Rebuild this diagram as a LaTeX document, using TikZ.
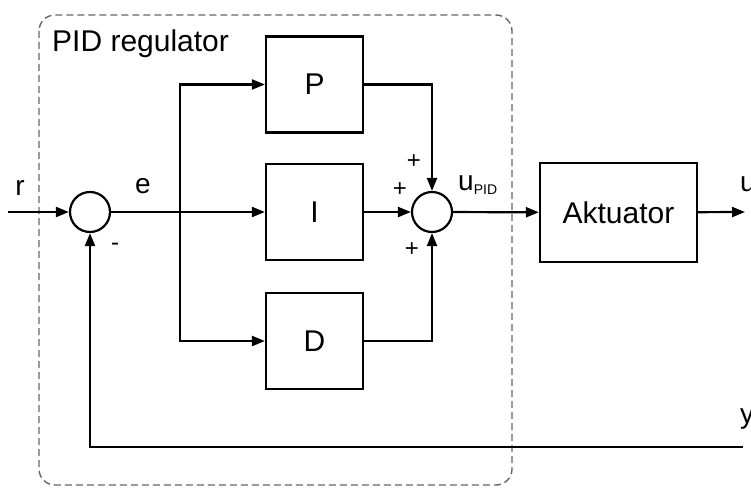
\documentclass[tikz,border=0pt]{standalone}
\usepackage{fontspec}
\setmainfont{Liberation Sans}
\usetikzlibrary{arrows.meta}
\begin{document}
\begin{tikzpicture}[x=1pt,y=-1pt,
  blk/.style={draw, line width=2.2pt, minimum width=97pt, minimum height=96pt, inner sep=0pt, font=\fontsize{30}{36}\selectfont},
  sumc/.style={draw, circle, line width=2.2pt, minimum size=40pt, inner sep=0pt},
  sig/.style={line width=2.2pt, -{Triangle[length=13pt,width=10pt]}},
  wire/.style={line width=2.2pt},
  lbl/.style={font=\fontsize{28}{32}\selectfont, inner sep=0pt},
  sgn/.style={font=\fontsize{24}{28}\selectfont, inner sep=0pt}]
\useasboundingbox (0,0) rectangle (751,489);
% dashed region
\draw[gray!80!black, line width=1.4pt, dash pattern=on 7pt off 4pt, rounded corners=16pt] (39,15) rectangle (512,485);
\node[anchor=west, inner sep=0pt, font=\fontsize{30}{36}\selectfont] (title) at (52,44) {PID regulator};
% blocks
\node[sumc] (s1) at (90,212) {};
\node[blk] (P) at (314.5,84.5) {P};
\node[blk] (I) at (314.5,212) {I};
\node[blk] (D) at (314.5,341) {D};
\node[sumc] (s2) at (432,212) {};
\node[blk, minimum width=157pt, minimum height=99pt] (A) at (618.5,212.5) {Aktuator};
% coordinates
\coordinate (in) at (8,212);
\coordinate (br) at (180,212);
\coordinate (out) at (745,212);
\coordinate (fbr) at (743,447);
\coordinate (fbl) at (90,447);
% connections
\draw[sig] (in) -- (s1);
\draw[wire] (s1) -- (br);
\draw[sig] (br) -- (I);
\draw[sig] (br) |- (P);
\draw[sig] (br) |- (D);
\draw[sig] (P) -| (s2);
\draw[sig] (I) -- (s2);
\draw[sig] (D) -| (s2);
\draw[sig] (s2) -- (A);
\draw[sig] (A) -- (out);
\draw[sig] (fbr) -- (fbl) -- (s1);
% labels
\node[lbl] (lr) at (20,188) {r};
\node[lbl] (le) at (143,186) {e};
\node[sgn] (lm) at (115,247) {-};
\node[sgn] (p1) at (414,162) {+};
\node[sgn] (p2) at (400,190) {+};
\node[sgn] (p3) at (412,250) {+};
\node[lbl, anchor=west] (lu) at (458,185) {u\textsubscript{\fontsize{14}{16}\selectfont PID}};
\node[lbl, anchor=west] (lout) at (740,184) {u};
\node[lbl, anchor=west] (ly) at (740,419) {y};
\end{tikzpicture}
\end{document}
